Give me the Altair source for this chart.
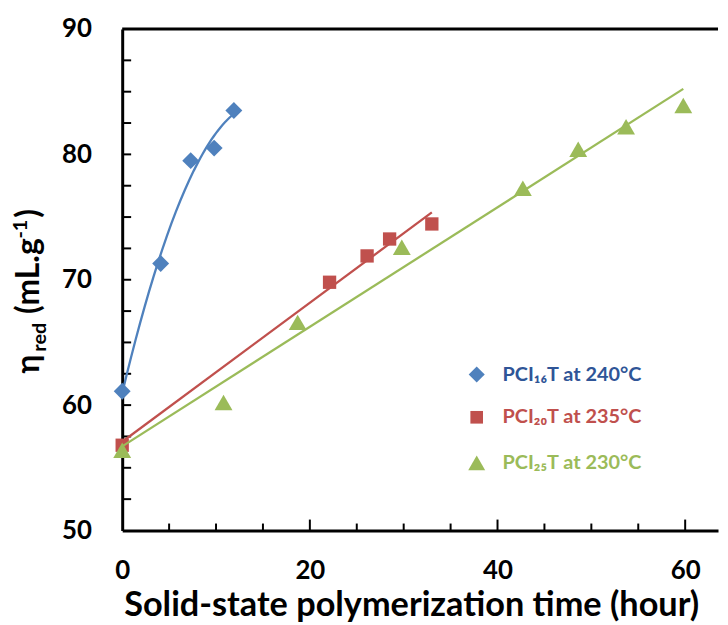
import altair as alt
import pandas as pd

# ---- data ----
blue_x = [0, 4.1, 7.3, 9.8, 11.9]
blue_y = [61.1, 71.3, 79.5, 80.5, 83.5]
red_x = [0, 22.1, 26.1, 28.5, 33.0]
red_y = [56.8, 69.8, 71.9, 73.25, 74.45]
green_x = [0, 10.8, 18.7, 29.8, 42.7, 48.6, 53.7, 59.8]
green_y = [56.4, 60.2, 66.6, 72.6, 77.3, 80.4, 82.2, 83.9]

series_labels = ["PCI\u2081\u2086T at 240\u00b0C", "PCI\u2082\u2080T at 235\u00b0C", "PCI\u2082\u2085T at 230\u00b0C"]
marker_colors = ["#4F81BD", "#C0504D", "#9BBB59"]
text_colors = ["#2F5597", "#C0504D", "#9BBB59"]
shapes = ["diamond", "square", "triangle-up"]
marker_sizes = [290, 180, 324]

x_major = [0, 20, 40, 60]
x_ticks_major = [20, 40, 60]
x_ticks_minor = [5, 10, 15, 25, 30, 35, 45, 50, 55]
y_major = [50, 60, 70, 80, 90]
y_ticks = [52.5, 55, 57.5, 60, 62.5, 65, 67.5, 70, 72.5, 75, 77.5, 80, 82.5, 85, 87.5]
x_min, x_max, y_min, y_max = 0, 63.5, 50, 90

x_title = "Solid-state polymerization time (hour)"
y_title_parts = ["\u03b7", "red", "(mL.g", "-1", ")"]

W, H = 600, 505
FONT = "Lato"

xs = alt.Scale(domain=[x_min, x_max], nice=False, zero=False)
ys = alt.Scale(domain=[y_min, y_max], nice=False, zero=False)

def frame(xv, yv, label):
    return pd.DataFrame({"x": xv, "y": yv, "label": [label] * len(xv)})

dfs = [frame(blue_x, blue_y, series_labels[0]),
       frame(red_x, red_y, series_labels[1]),
       frame(green_x, green_y, series_labels[2])]

# main axes (labels + axis lines)
axes_main = alt.Chart(dfs[2]).mark_point(opacity=0).encode(
    x=alt.X("x:Q", scale=xs, axis=alt.Axis(
        orient="bottom", values=x_major, format="d", labelFlush=False,
        labelFont=FONT, labelFontSize=26, labelFontWeight="bold", labelColor="black",
        labelPadding=27, ticks=False, tickSize=0, domain=True, domainColor="black",
        domainWidth=3, grid=False, title=x_title, titleFont=FONT, titleFontSize=34.5,
        titleFontWeight="bold", titleColor="black", titleX=291, titleY=86,
        titleBaseline="alphabetic", titleAlign="center")),
    y=alt.Y("y:Q", scale=ys, axis=alt.Axis(
        orient="left", values=y_major, format="d",
        labelFont=FONT, labelFontSize=26, labelFontWeight="bold", labelColor="black",
        labelPadding=31, ticks=False, tickSize=0, domain=True, domainColor="black",
        domainWidth=3, grid=False, title=None)),
)

# top frame line at y = y_max
top_line = alt.Chart(pd.DataFrame({"a": [x_min], "b": [x_max], "y": [y_max]})).mark_rule(
    color="black", strokeWidth=3).encode(
    x=alt.X("a:Q", scale=xs), x2="b:Q", y=alt.Y("y:Q", scale=ys))

# inward tick marks, placed through the scales
xt_minor = alt.Chart(pd.DataFrame({"v": x_ticks_minor})).mark_tick(
    orient="vertical", color="black", opacity=1, thickness=2, size=7).encode(
    x=alt.X("v:Q", scale=xs), y=alt.value(H - 3.5))
xt_major = alt.Chart(pd.DataFrame({"v": x_ticks_major})).mark_tick(
    orient="vertical", color="black", opacity=1, thickness=2, size=11).encode(
    x=alt.X("v:Q", scale=xs), y=alt.value(H - 5.5))
yt = alt.Chart(pd.DataFrame({"v": y_ticks})).mark_tick(
    orient="horizontal", color="black", opacity=1, thickness=2, size=8).encode(
    y=alt.Y("v:Q", scale=ys), x=alt.value(5))

layers = [axes_main, top_line, xt_minor, xt_major, yt]

methods = [dict(method="poly", order=2), dict(method="linear"), dict(method="linear")]
legend_y = [338, 381, 427]

for i in range(3):
    base = alt.Chart(dfs[i])
    line = base.transform_regression("x", "y", **methods[i]).mark_line(
        color=marker_colors[i], strokeWidth=2.3).encode(
        x=alt.X("x:Q", scale=xs),
        y=alt.Y("y:Q", scale=ys))
    leg = alt.Legend(orient="none", legendX=347, legendY=legend_y[i], title=None,
                     padding=0, labelColor=text_colors[i], labelFont=FONT,
                     labelFontSize=20, labelFontWeight="bold", labelOffset=16,
                     symbolType=shapes[i], symbolSize=marker_sizes[i] * 0.9,
                     symbolOpacity=1, symbolStrokeWidth=0)
    pts = base.mark_point(filled=True, opacity=1, shape=shapes[i],
                          size=marker_sizes[i]).encode(
        x=alt.X("x:Q", scale=xs),
        y=alt.Y("y:Q", scale=ys),
        color=alt.Color("label:N", scale=alt.Scale(domain=[series_labels[i]],
                                                  range=[marker_colors[i]]), legend=leg),
    )
    layers += [line, pts]

# y-axis title built from pieces (subscript / superscript)
yt_x = [-84, -77, -84, -96, -84]
yt_y = [347, 325, 287, 211, 190]
yt_size = [32, 20, 32, 20, 32]
for t, px, py, fs in zip(y_title_parts, yt_x, yt_y, yt_size):
    layers.append(alt.Chart(pd.DataFrame({"t": [t]})).mark_text(
        angle=270, align="left", baseline="alphabetic", font=FONT,
        fontSize=fs, fontWeight="bold", color="black").encode(
        text="t:N", x=alt.value(px), y=alt.value(py)))

chart = alt.layer(*layers).resolve_scale(color="independent").properties(
    width=W, height=H,
    autosize=alt.AutoSizeParams(type="none"),
    padding={"left": 115, "top": 19, "right": 2, "bottom": 90},
).configure_view(stroke="transparent", strokeWidth=0)

chart.save("out.html", embed_options={"renderer": "svg", "actions": False})
